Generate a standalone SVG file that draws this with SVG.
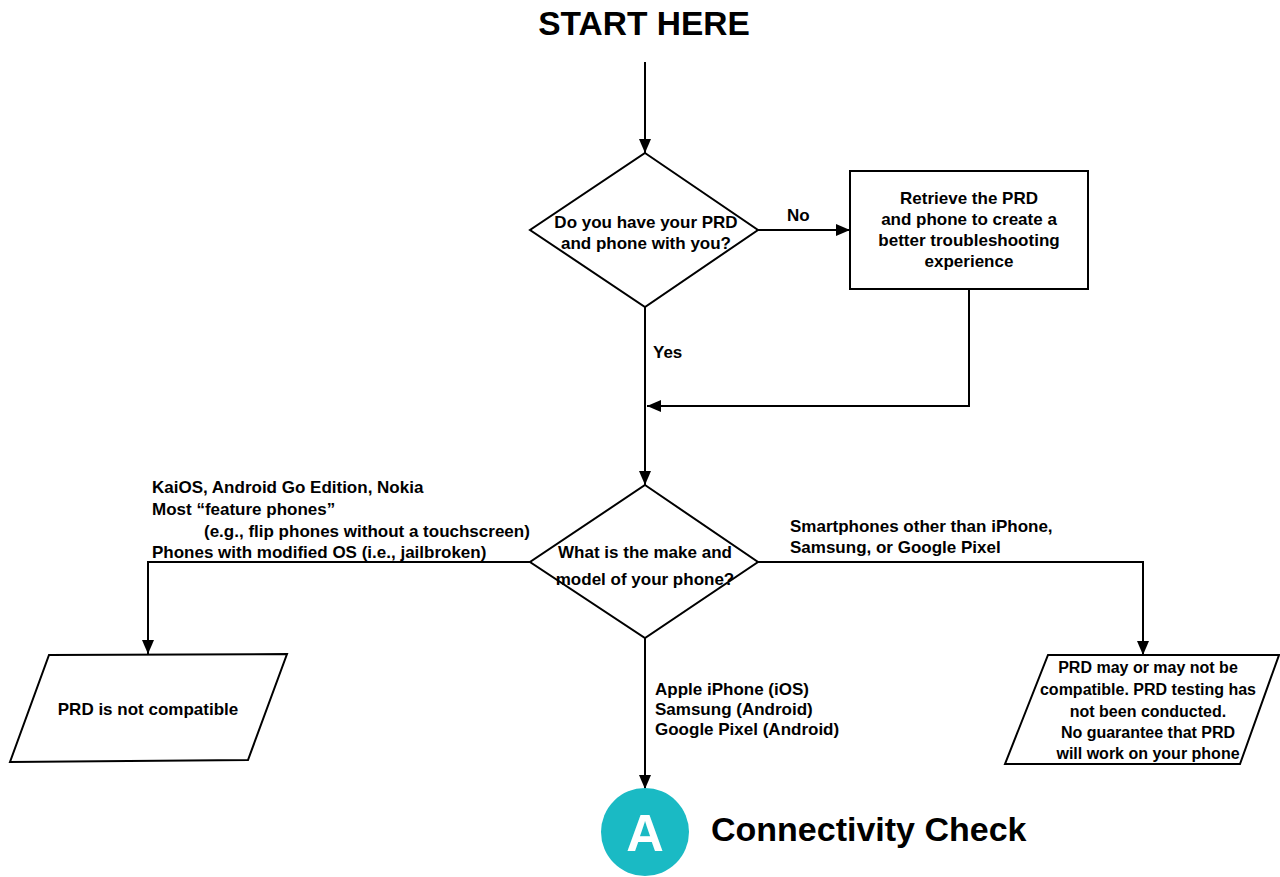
<svg xmlns="http://www.w3.org/2000/svg" width="1280" height="877" viewBox="0 0 1280 877">
<defs>
<marker id="ah" markerWidth="14" markerHeight="12" refX="14" refY="6" orient="auto" markerUnits="userSpaceOnUse">
<path d="M0,0 L14,6 L0,12 Z" fill="#000"/>
</marker>
<style>
.t{font-family:"Liberation Sans",Arial,sans-serif;font-weight:bold;font-size:17px;fill:#000}
.c{text-anchor:middle}
.s{fill:#fff;stroke:#000;stroke-width:2}
.l{fill:none;stroke:#000;stroke-width:2;marker-end:url(#ah)}
.p{fill:none;stroke:#000;stroke-width:2}
</style>
</defs>
<rect width="1280" height="877" fill="#fff"/>
<text class="t c" x="644" y="35" style="font-size:33.5px">START HERE</text>
<g id="connectors">
<line class="l" x1="645" y1="62" x2="645" y2="153"/>
<line class="l" x1="758" y1="230" x2="850" y2="230"/>
<polyline class="l" points="969,289 969,406 647,406"/>
<line class="p" x1="645" y1="307" x2="645" y2="406"/>
<line class="l" x1="645" y1="406" x2="645" y2="485"/>
<polyline class="l" points="530,562 148,562 148,654"/>
<polyline class="l" points="758,562 1143,562 1143,655"/>
<line class="l" x1="645" y1="638" x2="645" y2="789"/>
<text class="t" x="787" y="221">No</text>
<text class="t" x="653" y="358">Yes</text>
<text class="t" x="152" y="493">KaiOS, Android Go Edition, Nokia</text>
<text class="t" x="152" y="515">Most “feature phones”</text>
<text class="t" x="204" y="537">(e.g., flip phones without a touchscreen)</text>
<text class="t" x="152" y="558">Phones with modified OS (i.e., jailbroken)</text>
<text class="t" x="790" y="532">Smartphones other than iPhone,</text>
<text class="t" x="790" y="553">Samsung, or Google Pixel</text>
<text class="t" x="655" y="695">Apple iPhone (iOS)</text>
<text class="t" x="655" y="715">Samsung (Android)</text>
<text class="t" x="655" y="735">Google Pixel (Android)</text>
</g>
<g id="d1">
<polygon class="s" points="645,153 758,230 645,307 530,230"/>
<text class="t c" x="646" y="228">Do you have your PRD</text>
<text class="t c" x="646" y="249">and phone with you?</text>
</g>
<g id="retrieve">
<rect class="s" x="850" y="171" width="238" height="118"/>
<text class="t c" x="969" y="204">Retrieve the PRD</text>
<text class="t c" x="969" y="225">and phone to create a</text>
<text class="t c" x="969" y="246">better troubleshooting</text>
<text class="t c" x="969" y="267">experience</text>
</g>
<g id="d2">
<polygon class="s" points="645,485 758,562 645,638 530,562"/>
<text class="t c" x="645" y="558">What is the make and</text>
<text class="t c" x="645" y="585">model of your phone?</text>
</g>
<g id="notcompat">
<polygon class="s" points="49,655 287,654 248,760 10,762"/>
<text class="t c" x="148" y="715">PRD is not compatible</text>
</g>
<g id="maybe">
<polygon class="s" points="1048,655 1279,655 1240,764 1005,764"/>
<text class="t c" x="1148" y="673" style="font-size:16px">PRD may or may not be</text>
<text class="t c" x="1148" y="695" style="font-size:16px">compatible. PRD testing has</text>
<text class="t c" x="1148" y="717" style="font-size:16px">not been conducted.</text>
<text class="t c" x="1148" y="738" style="font-size:16px">No guarantee that PRD</text>
<text class="t c" x="1148" y="759" style="font-size:16px">will work on your phone</text>
</g>
<g id="nodeA">
<circle cx="645" cy="832" r="44" fill="#1ABAC4"/>
<text class="t c" x="645" y="851" style="font-size:52px;fill:#fff">A</text>
<text class="t" x="711" y="841" style="font-size:34px">Connectivity Check</text>
</g>
</svg>
